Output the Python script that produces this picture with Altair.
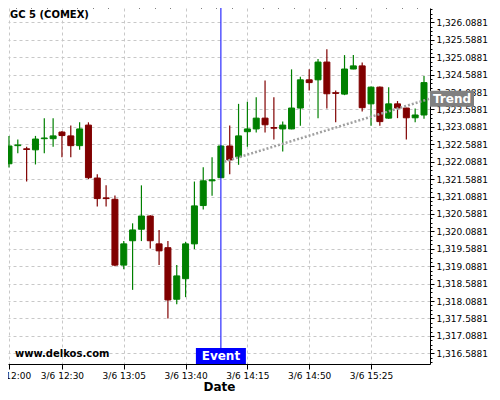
import altair as alt
import pandas as pd

# ---------------- data ----------------
times = pd.date_range("2019-03-06 12:00", periods=48, freq="5min")

open_ = [1322.03, 1322.55, 1322.46, 1322.43, 1322.75, 1322.75, 1322.94, 1322.83, 1322.55, 1323.14,
         1321.62, 1321.05, 1321.01, 1319.12, 1319.82, 1320.15, 1320.53, 1319.73, 1319.62, 1318.14,
         1318.73, 1319.73, 1320.83, 1321.54, 1321.63, 1322.54, 1322.23, 1322.95, 1323.03, 1323.34,
         1323.07, 1323.03, 1323.03, 1323.63, 1324.44, 1324.44, 1324.95, 1324.07, 1324.03, 1324.75,
         1324.84, 1323.75, 1324.23, 1323.34, 1323.75, 1323.63, 1323.35, 1323.43]
close = [1322.54, 1322.57, 1322.44, 1322.74, 1322.77, 1322.83, 1322.84, 1322.55, 1323.03, 1321.63,
         1321.03, 1321.03, 1319.12, 1319.73, 1320.13, 1320.53, 1319.82, 1319.53, 1318.12, 1318.81,
         1319.73, 1320.82, 1321.54, 1321.57, 1322.54, 1322.14, 1322.83, 1323.03, 1323.34, 1323.15,
         1323.05, 1323.14, 1323.63, 1324.44, 1324.36, 1324.95, 1324.04, 1324.05, 1324.75, 1324.84,
         1323.64, 1324.23, 1323.24, 1323.75, 1323.63, 1323.35, 1323.43, 1324.36]
high = [1322.83, 1322.73, 1322.52, 1322.83, 1323.34, 1323.34, 1322.97, 1323.13, 1323.22, 1323.22,
        1321.73, 1321.41, 1321.12, 1319.81, 1320.32, 1321.41, 1320.55, 1320.13, 1319.81, 1319.12,
        1319.79, 1321.52, 1321.93, 1322.22, 1322.56, 1323.13, 1323.75, 1323.81, 1323.94, 1324.42,
        1323.94, 1323.24, 1324.74, 1324.53, 1324.74, 1325.04, 1325.32, 1324.13, 1325.15, 1325.15,
        1324.94, 1324.25, 1324.25, 1324.23, 1323.83, 1323.64, 1323.62, 1324.55]
low = [1321.92, 1322.33, 1321.52, 1322.01, 1322.33, 1322.52, 1322.22, 1322.22, 1322.43, 1321.59,
       1320.80, 1320.80, 1319.09, 1319.00, 1318.41, 1319.81, 1319.60, 1319.12, 1317.59, 1318.00,
       1318.20, 1319.58, 1320.72, 1321.11, 1321.62, 1321.73, 1322.00, 1322.52, 1322.93, 1322.93,
       1322.73, 1322.38, 1323.02, 1323.12, 1324.13, 1323.34, 1323.62, 1323.22, 1324.00, 1324.74,
       1323.53, 1323.12, 1323.12, 1323.32, 1323.34, 1322.73, 1323.22, 1323.32]

event_time = ["2019-03-06T14:00:00"]
event_label = ["Event"]
trend_times = ["2019-03-06T14:02:00", "2019-03-06T15:58:24"]
trend_values = [1322.09, 1323.90]
trend_label = ["Trend"]
title_text = ["GC 5 (COMEX)"]
site_text = ["www.delkos.com"]

y_major = [1316.5881 + 0.5 * k for k in range(20)]
x_major = [(12, 0), (12, 30), (13, 5), (13, 40), (14, 15), (14, 50), (15, 25)]

# ---------------- build ----------------
W, H = 422, 356
FONT = "DejaVu Sans"

df = pd.DataFrame({"time": times, "open": open_, "close": close, "high": high, "low": low})
df["dir"] = ["up" if c >= o else "down" for o, c in zip(open_, close)]

def dt(h, m, s=0):
    return alt.DateTime(year=2019, month=3, date=6, hours=h, minutes=m, seconds=s)

xscale = alt.Scale(domain=[dt(11, 59, 27), dt(15, 58, 24)], nice=False, padding=0)
yscale = alt.Scale(domain=[1316.281, 1326.502], nice=False, zero=False, padding=0)
cscale = alt.Scale(domain=["up", "down"], range=["#008000", "#800000"])

# minor tick positions
x_minor = []
base_min = 12 * 60 + 30
for k in range(-3, 26):
    if k % 4 == 0:
        continue
    tot = base_min * 60 + int(k * 8.75 * 60)
    h, rem = divmod(tot, 3600)
    m, s = divmod(rem, 60)
    x_minor.append(dt(h, m, s))
y_minor = [1316.3381 + 0.125 * k for k in range(82) if k % 4 != 2]

main_x_axis = alt.Axis(values=[dt(h, m) for h, m in x_major], labelExpr="timeFormat(datum.value, '%-m/%-d %H:%M')",
                       grid=True, gridColor="#c8c8c8", gridDash=[3, 3], tickSize=5, labelPadding=2,
                       labelFlush=False, labelOverlap=False, labelFont=FONT, labelFontSize=9, labelColor="black",
                       domainColor="black", tickColor="black", title="Date", titleFont=FONT, titleFontSize=12,
                       titleFontWeight="bold", titleColor="black", titlePadding=1, zindex=0)
main_y_axis = alt.Axis(orient="right", values=y_major, labelExpr="format(datum.value, ',.4f')",
                       grid=True, gridColor="#c8c8c8", gridDash=[3, 3], tickSize=4, labelPadding=2,
                       labelFlush=False, labelOverlap=False, labelFont=FONT, labelFontSize=9, labelColor="black",
                       domainColor="black", tickColor="black", title=None, zindex=0)
minor_x_axis = alt.Axis(values=x_minor, labels=False, grid=False, domain=False, tickSize=3,
                        tickColor="black", title=None, zindex=0)
minor_y_axis = alt.Axis(orient="right", values=y_minor, labels=False, grid=False, domain=False, tickSize=2,
                        tickColor="black", title=None, zindex=0)

base = alt.Chart(df)
wicks = base.mark_rule(strokeWidth=1.2).encode(
    x=alt.X("time:T", scale=xscale, axis=main_x_axis),
    y=alt.Y("low:Q", scale=yscale, axis=main_y_axis),
    y2="high:Q",
    color=alt.Color("dir:N", scale=cscale, legend=None),
)
bodies = base.mark_bar(width=6, strokeWidth=1).encode(
    x=alt.X("time:T", scale=xscale, axis=None),
    y=alt.Y("open:Q", scale=yscale, axis=None),
    y2="close:Q",
    color=alt.Color("dir:N", scale=cscale, legend=None),
    stroke=alt.Stroke("dir:N", scale=cscale, legend=None),
)
minor = base.mark_point(opacity=0).encode(
    x=alt.X("time:T", scale=xscale, axis=minor_x_axis),
    y=alt.Y("open:Q", scale=yscale, axis=minor_y_axis),
)

trend_df = pd.DataFrame({"time": pd.to_datetime(trend_times), "value": trend_values})
trend = alt.Chart(trend_df).mark_line(color="#a0a0a0", strokeWidth=2.5, strokeDash=[2, 2]).encode(
    x=alt.X("time:T", scale=xscale, axis=None),
    y=alt.Y("value:Q", scale=yscale, axis=None),
)
tlab_df = pd.DataFrame({"value": [trend_values[-1]], "label": trend_label})
trend_box = alt.Chart(tlab_df).mark_rule(color="#808080", strokeWidth=16, strokeCap="butt").encode(
    x=alt.value(W), x2=alt.value(W + 44),
    y=alt.Y("value:Q", scale=yscale, axis=None),
)
trend_txt = alt.Chart(tlab_df).mark_text(color="white", font=FONT, fontSize=12, fontWeight="bold",
                                         align="center", baseline="middle").encode(
    x=alt.value(W + 22),
    y=alt.Y("value:Q", scale=yscale, axis=None),
    text="label:N",
)

ev_df = pd.DataFrame({"time": pd.to_datetime(event_time), "label": event_label})
ev_rule = alt.Chart(ev_df).mark_rule(color="#0000ff", strokeWidth=1).encode(
    x=alt.X("time:T", scale=xscale, axis=None),
)
ev_box = alt.Chart(ev_df).mark_rule(color="#0000ff", strokeWidth=50, strokeCap="butt").encode(
    x=alt.X("time:T", scale=xscale, axis=None),
    y=alt.value(H - 16), y2=alt.value(H),
)
ev_txt = alt.Chart(ev_df).mark_text(color="white", font=FONT, fontSize=12, fontWeight="bold",
                                    align="center", baseline="middle").encode(
    x=alt.X("time:T", scale=xscale, axis=None),
    y=alt.value(H - 8),
    text="label:N",
)

title_df = pd.DataFrame({"t": title_text})
title = alt.Chart(title_df).mark_text(font=FONT, fontSize=10, fontWeight="bold", color="black",
                                      align="left", baseline="middle").encode(
    x=alt.value(2), y=alt.value(7), text="t:N")
site_df = pd.DataFrame({"t": site_text})
site = alt.Chart(site_df).mark_text(font=FONT, fontSize=10, fontWeight="bold", color="black",
                                    align="left", baseline="middle").encode(
    x=alt.value(7), y=alt.value(H - 10), text="t:N")

chart = alt.layer(
    wicks, bodies, minor, trend, ev_rule, ev_box, ev_txt, trend_box, trend_txt, title, site
).resolve_axis(x="independent", y="independent").properties(
    width=W, height=H,
    autosize=alt.AutoSizeParams(type="none"),
    padding={"left": 0, "top": 0, "right": 62, "bottom": 28},
).configure_view(stroke=None)

chart.save("out.html", embed_options={"renderer": "svg", "actions": False})
